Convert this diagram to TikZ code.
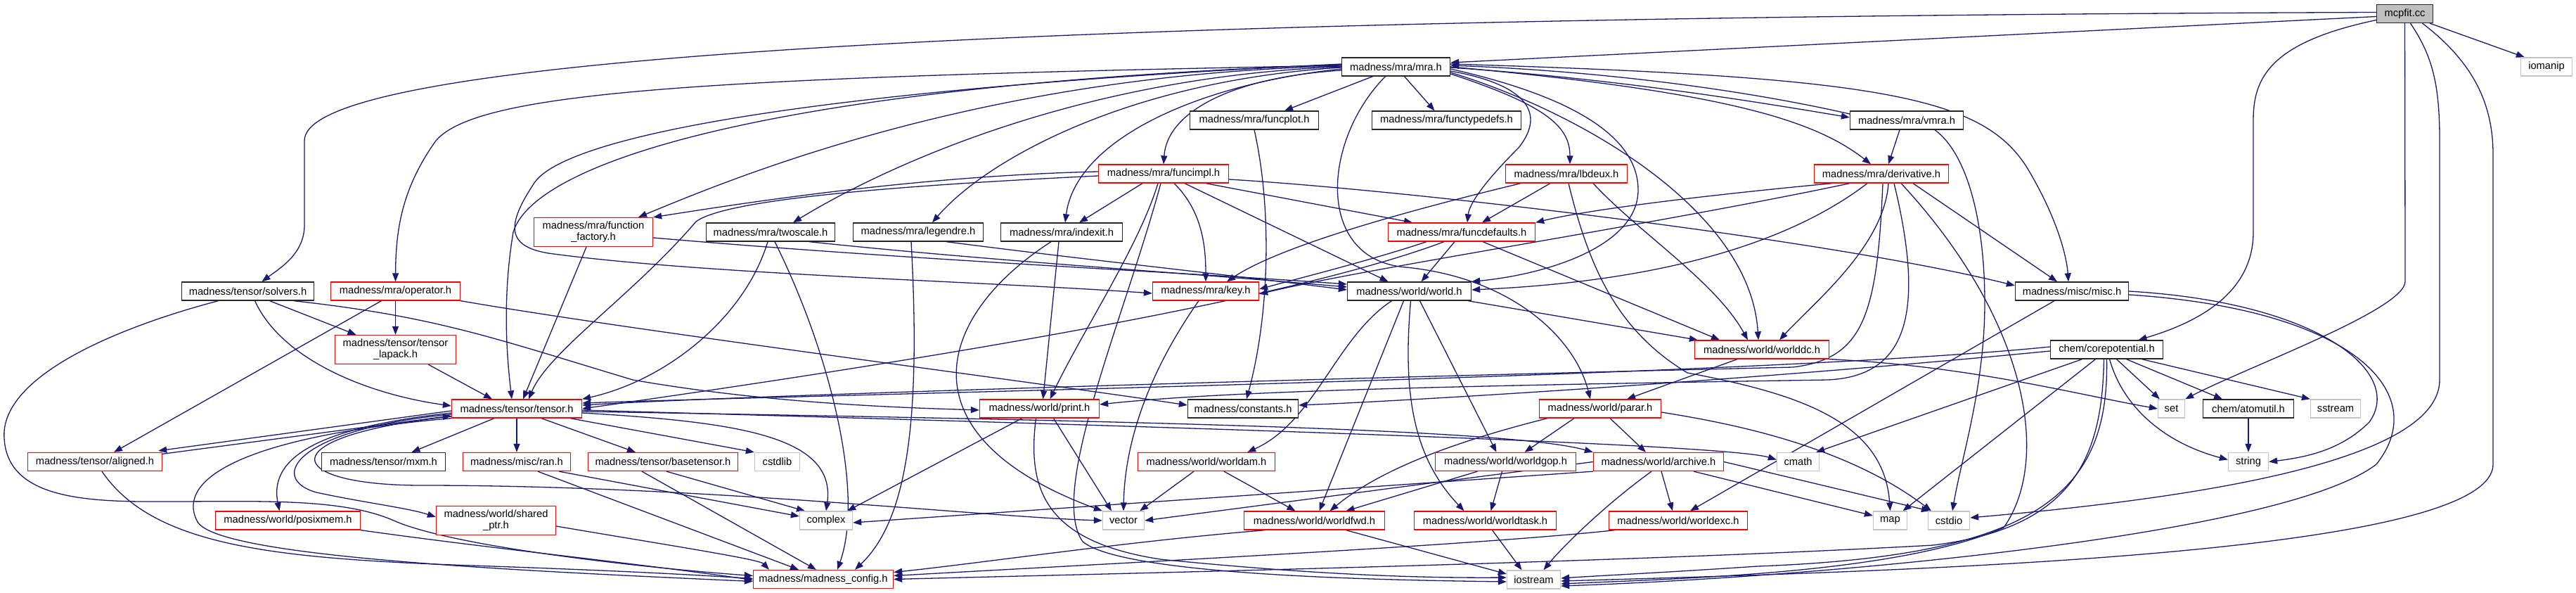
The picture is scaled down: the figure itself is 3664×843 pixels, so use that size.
\documentclass[tikz,border=0pt]{standalone}
\usepackage{fontspec}
\setmainfont{Liberation Sans}
\usetikzlibrary{arrows.meta}
\definecolor{edgec}{HTML}{191970}
\definecolor{redc}{HTML}{FF0000}
\definecolor{extc}{HTML}{C4C4C4}
\definecolor{rootc}{HTML}{BFBFBF}
\pgfdeclarelayer{bg}
\pgfsetlayers{bg,main}
\begin{document}
\begin{tikzpicture}[x=1pt,y=-1pt,
  nbox/.style={rectangle, draw, fill=white, minimum height=26pt, inner sep=0pt, line width=1.3pt, align=center, font=\fontsize{14.7pt}{16pt}\selectfont},
  blk/.style={nbox, draw=black!85},
  rd/.style={nbox, draw=redc},
  ext/.style={nbox, draw=extc},
  rootn/.style={nbox, draw=black!85, fill=rootc},
  two/.style={minimum height=41pt},
  wd/.style={minimum width=#1pt},
  dep/.style={draw=edgec, line width=1.3pt, -{Triangle[length=12pt,width=9pt]}}
]
\useasboundingbox (0,0) rectangle (3664,843);
% rank 0
\node[rootn, wd=80] (mcp) at (3420.5,19.5) {mcpfit.cc};
% rank 1
\node[blk, wd=154] (mra) at (1985.5,95) {madness/mra/mra.h};
\node[ext, wd=73] (iom) at (3622,95) {iomanip};
% rank 2
\node[blk, wd=183] (fplot) at (1784,171) {madness/mra/funcplot.h};
\node[blk, wd=212] (ftd) at (2057.5,171) {madness/mra/functypedefs.h};
\node[blk, wd=161] (vmra) at (2712,171) {madness/mra/vmra.h};
% rank 3
\node[rd, wd=185] (fimpl) at (1655,247) {madness/mra/funcimpl.h};
\node[rd, wd=173] (lbd) at (2228,247) {madness/mra/lbdeux.h};
\node[rd, wd=191] (deriv) at (2676,247) {madness/mra/derivative.h};
% rank 4
\node[rd, two, wd=169] (ffac) at (844,330) {madness/mra/function\\\_factory.h};
\node[blk, wd=183] (twos) at (1096,330) {madness/mra/twoscale.h};
\node[blk, wd=185] (leg) at (1306,330) {madness/mra/legendre.h};
\node[blk, wd=173] (idx) at (1510,330) {madness/mra/indexit.h};
\node[rd, wd=209] (fdef) at (2079,330) {madness/mra/funcdefaults.h};
% rank 5
\node[blk, wd=188] (solv) at (352.5,414) {madness/tensor/solvers.h};
\node[rd, wd=184] (oper) at (562.5,414) {madness/mra/operator.h};
\node[rd, wd=151] (key) at (1715,414) {madness/mra/key.h};
\node[blk, wd=176] (world) at (2004.5,414) {madness/world/world.h};
\node[blk, wd=161] (misc) at (2947,414) {madness/misc/misc.h};
% rank 6
\node[rd, two, wd=172] (lap) at (562.5,497) {madness/tensor/tensor\\\_lapack.h};
\node[rd, wd=191] (wdc) at (2506,497) {madness/world/worlddc.h};
\node[blk, wd=160] (corep) at (2996.5,497) {chem/corepotential.h};
% rank 7
\node[rd, wd=185] (tensor) at (735,581) {madness/tensor/tensor.h};
\node[rd, wd=170] (print) at (1478.5,581) {madness/world/print.h};
\node[blk, wd=157] (cons) at (1768,581) {madness/constants.h};
\node[rd, wd=173] (parar) at (2276,581) {madness/world/parar.h};
\node[ext, wd=38] (set) at (3088.5,581) {set};
\node[blk, wd=129] (atom) at (3198,581) {chem/atomutil.h};
\node[ext, wd=71] (sstr) at (3322,581) {sstream};
% rank 8
\node[rd, wd=191] (aligned) at (135,656.5) {madness/tensor/aligned.h};
\node[blk, wd=176] (mxm) at (545.5,656.5) {madness/tensor/mxm.h};
\node[rd, wd=153] (ran) at (735,656.5) {madness/misc/ran.h};
\node[rd, wd=213] (base) at (943,656.5) {madness/tensor/basetensor.h};
\node[ext, wd=64] (cstdlib) at (1105.5,656.5) {cstdlib};
\node[rd, wd=195] (wam) at (1716,656.5) {madness/world/worldam.h};
\node[rd, wd=200] (wgop) at (2141.5,656.5) {madness/world/worldgop.h};
\node[rd, wd=185] (arch) at (2359,656.5) {madness/world/archive.h};
\node[ext, wd=60] (cmath) at (2557.5,656.5) {cmath};
\node[ext, wd=57] (string) at (3198,656.5) {string};
% rank 9
\node[rd, wd=206] (posix) at (409.5,740) {madness/world/posixmem.h};
\node[rd, two, wd=170] (shptr) at (705.5,740) {madness/world/shared\\\_ptr.h};
\node[ext, wd=75] (complex) at (1175,740) {complex};
\node[ext, wd=59] (vector) at (1598,740) {vector};
\node[rd, wd=200] (wfwd) at (1869.5,740) {madness/world/worldfwd.h};
\node[rd, wd=202] (wtask) at (2112.5,740) {madness/world/worldtask.h};
\node[rd, wd=197] (wexc) at (2387,740) {madness/world/worldexc.h};
\node[ext, wd=48] (map) at (2688.5,740) {map};
\node[ext, wd=59] (cstdio) at (2772,740) {cstdio};
% rank 10
\node[rd, wd=199] (config) at (1171,823.5) {madness/madness\_config.h};
\node[ext, wd=76] (iostream) at (2181.5,824) {iostream};

\begin{pgfonlayer}{bg}
% mcpfit.cc
\draw[dep] ([yshift=-4pt]mcp.west) -- ([yshift=6pt]mra.east);
\draw[dep] ([yshift=2pt]mcp.west) .. controls (1000,26) and (433,110) .. (433,200) -- (433,320) .. controls (433,360) and (400,380) .. ([xshift=20pt]solv.north);
\draw[dep] ([xshift=-5pt]mcp.south east) -- ([xshift=6pt]iom.north west);
\draw[dep] ([yshift=-9pt]mcp.west) .. controls (3230,60) and (3205,110) .. (3205,170) -- (3205,330) .. controls (3205,420) and (3120,460) .. ([xshift=45pt]corep.north);
\draw[dep] (mcp.south) -- (3421,400) .. controls (3421,440) and (3200,520) .. (set.north east);
\draw[dep] ([xshift=8pt]mcp.south) .. controls (3460,80) and (3470,120) .. (3470,200) -- (3470,540) .. controls (3470,660) and (3100,710) .. ([yshift=4pt]cstdio.east);
\draw[dep] ([xshift=25pt]mcp.south) .. controls (3520,90) and (3546,150) .. (3546,220) -- (3546,660) .. controls (3546,790) and (2700,812) .. ([yshift=-2pt]iostream.east);
% mra.h
\draw[dep] ([xshift=-33pt]mra.south) -- ([xshift=43pt]fplot.north);
\draw[dep] ([xshift=12pt]mra.south) -- ([xshift=-17pt]ftd.north);
\draw[dep] ([yshift=-10pt]mra.east) .. controls (2200,150) and (2233,180) .. ([xshift=5pt]lbd.north);
\draw[dep] ([yshift=-6pt]mra.east) .. controls (2170,120) and (2200,160) .. (2160,210) .. controls (2110,260) and (2090,290) .. ([xshift=8pt]fdef.north);
\draw[dep] ([yshift=-3pt]mra.east) .. controls (2250,140) and (2330,200) .. (2330,270) .. controls (2330,350) and (2200,390) .. (world.north east);
\draw[dep] ([xshift=-15pt]mra.south) .. controls (1880,200) and (1870,370) .. (2000,380) .. controls (2150,395) and (2240,480) .. ([xshift=-14pt]parar.north);
\draw[dep] ([yshift=-1pt]mra.east) .. controls (2300,112) and (2500,145) .. ([yshift=4pt]vmra.west);
\draw[dep] ([yshift=9pt]vmra.west) .. controls (2500,132) and (2300,102) .. ([yshift=2pt]mra.east);
\draw[dep] (mra.east) .. controls (2450,130) and (2580,170) .. ([xshift=-15pt]deriv.north);
\draw[dep] ([yshift=4pt]mra.east) .. controls (2700,110) and (2830,140) .. (2890,250) .. controls (2930,320) and (2940,370) .. ([xshift=-5pt]misc.north);
\draw[dep] ([yshift=-8pt]mra.east) .. controls (2250,160) and (2490,300) .. ([xshift=-5pt]wdc.north);
\draw[dep] ([yshift=-5pt]mra.west) .. controls (1750,110) and (1660,160) .. (fimpl.north);
\draw[dep] ([yshift=-3pt]mra.west) .. controls (1700,120) and (1530,200) .. ([xshift=5pt]idx.north);
\draw[dep] ([yshift=-1pt]mra.west) .. controls (1600,115) and (1400,230) .. ([xshift=20pt]leg.north);
\draw[dep] (mra.west) .. controls (1500,110) and (1220,260) .. ([xshift=32pt]twos.north);
\draw[dep] ([yshift=1pt]mra.west) .. controls (1400,105) and (1050,250) .. ([xshift=64pt]ffac.north);
\draw[dep] ([yshift=2pt]mra.west) .. controls (1000,110) and (680,130) .. (620,200) .. controls (570,270) and (563,330) .. (oper.north);
\draw[dep] ([yshift=3pt]mra.west) .. controls (1100,120) and (760,230) .. (730,330) .. controls (715,420) and (720,500) .. ([xshift=-7pt]tensor.north);
\draw[dep] ([yshift=4pt]mra.west) .. controls (1100,130) and (800,200) .. (760,260) .. controls (720,320) and (720,350) .. (780,360) .. controls (1000,390) and (1400,400) .. ([yshift=-3pt]key.west);
% vmra.h
\draw[dep] ([xshift=-10pt]vmra.south) -- ([xshift=10pt]deriv.north);
\draw[dep] ([xshift=40pt]vmra.south) .. controls (2800,220) and (2823,320) .. (2823,430) .. controls (2823,550) and (2790,650) .. ([xshift=5pt]cstdio.north);
% funcplot.h
\draw[dep] (fplot.south) .. controls (1810,300) and (1805,450) .. ([xshift=5pt]cons.north);
% funcimpl.h
\draw[dep] ([yshift=3pt]fimpl.west) .. controls (1300,250) and (1050,290) .. (ffac.north east);
\draw[dep] ([yshift=-3pt]fimpl.west) .. controls (1250,265) and (1030,285) .. (990,315) .. controls (900,420) and (780,500) .. ([xshift=17pt]tensor.north);
\draw[dep] ([xshift=-30pt]fimpl.south) -- ([xshift=25pt]idx.north);
\draw[dep] ([xshift=-8pt]fimpl.south) .. controls (1620,350) and (1540,470) .. ([xshift=15pt]print.north);
\draw[dep] ([xshift=-4pt]fimpl.south) .. controls (1600,450) and (1490,700) .. (1540,770) .. controls (1600,820) and (2000,825) .. ([yshift=-3pt]iostream.west);
\draw[dep] ([xshift=15pt]fimpl.south) .. controls (1710,300) and (1715,350) .. (key.north);
\draw[dep] ([xshift=30pt]fimpl.south) -- ([xshift=-30pt]world.north);
\draw[dep] ([xshift=60pt]fimpl.south) -- ([xshift=-70pt]fdef.north);
\draw[dep] ([yshift=-8pt]fimpl.east) .. controls (2000,270) and (2600,340) .. ([yshift=8pt]misc.west);
% lbdeux.h
\draw[dep] ([xshift=-23pt]lbd.south) -- ([xshift=29pt]fdef.north);
\draw[dep] ([xshift=-65pt]lbd.south) .. controls (2000,300) and (1820,350) .. ([xshift=30pt]key.north);
\draw[dep] ([xshift=38pt]lbd.south) .. controls (2330,330) and (2440,400) .. ([xshift=-20pt]wdc.north);
\draw[dep] ([xshift=3pt]lbd.south) .. controls (2260,380) and (2300,470) .. (2400,530) .. controls (2560,560) and (2680,600) .. (map.north);
% funcdefaults.h
\draw[dep] ([xshift=-50pt]fdef.south) .. controls (1950,370) and (1850,395) .. ([yshift=3pt]key.east);
\draw[dep] ([xshift=-10pt]fdef.south) -- ([xshift=17pt]world.north);
\draw[dep] ([xshift=30pt]fdef.south) -- ([xshift=-60pt]wdc.north);
\draw[dep] ([xshift=-25pt]fdef.south) .. controls (1850,420) and (1400,500) .. (tensor.east);
% derivative.h
\draw[dep] ([xshift=-70pt]deriv.south) .. controls (2400,280) and (2250,300) .. (fdef.north east);
\draw[dep] ([xshift=-45pt]deriv.south) .. controls (2350,320) and (1950,380) .. ([yshift=-4pt]key.east);
\draw[dep] ([xshift=-20pt]deriv.south) .. controls (2500,380) and (2250,405) .. ([yshift=2pt]world.east);
\draw[dep] ([xshift=10pt]deriv.south) .. controls (2680,350) and (2580,430) .. ([xshift=25pt]wdc.north);
\draw[dep] ([xshift=2pt]deriv.south) .. controls (2670,450) and (2650,510) .. (2550,522) .. controls (2000,535) and (1100,560) .. ([yshift=5pt]tensor.east);
\draw[dep] ([xshift=18pt]deriv.south) .. controls (2740,450) and (2710,535) .. (2600,540) .. controls (2100,548) and (1750,555) .. ([yshift=6pt]print.east);
\draw[dep] ([xshift=28pt]deriv.south) .. controls (2880,450) and (2920,650) .. (2850,750) .. controls (2700,815) and (2400,822) .. ([yshift=-6pt]iostream.east);
\draw[dep] ([xshift=45pt]deriv.south) -- ([xshift=-21pt]misc.north);
% function_factory.h
\draw[dep] ([xshift=-10pt]ffac.south) -- ([xshift=9pt]tensor.north);
\draw[dep] ([yshift=-8pt]ffac.east) .. controls (1300,370) and (1650,385) .. ([yshift=10pt]world.west);
% twoscale.h
\draw[dep] ([xshift=-4pt]twos.south) .. controls (1060,450) and (950,540) .. (tensor.north east);
\draw[dep] ([xshift=6pt]twos.south) .. controls (1180,500) and (1230,700) .. ([xshift=20pt]config.north);
\draw[dep] ([xshift=55pt]twos.south) .. controls (1400,370) and (1650,385) .. ([yshift=6pt]world.west);
% legendre.h
\draw[dep] ([xshift=-10pt]leg.south) .. controls (1310,600) and (1290,740) .. ([xshift=45pt]config.north);
\draw[dep] ([xshift=40pt]leg.south) .. controls (1550,370) and (1700,385) .. ([yshift=2pt]world.west);
% indexit.h
\draw[dep] ([xshift=-4pt]idx.south) -- ([xshift=5pt]print.north);
\draw[dep] ([xshift=-15pt]idx.south) .. controls (1330,450) and (1280,620) .. (vector.north west);
% operator.h
\draw[dep] (oper.south) -- (lap.north);
\draw[dep] ([xshift=-20pt]oper.south) -- ([xshift=27pt]aligned.north);
\draw[dep] (oper.south east) .. controls (900,470) and (1450,540) .. ([yshift=5pt]cons.west);
% solvers.h
\draw[dep] ([xshift=31pt]solv.south) -- ([xshift=-56pt]lap.north);
\draw[dep] ([xshift=10pt]solv.south) .. controls (400,510) and (520,560) .. ([yshift=4pt]tensor.west);
\draw[dep] ([xshift=65pt]solv.south) .. controls (620,450) and (700,480) .. (900,540) .. controls (1100,575) and (1300,580) .. ([yshift=-2pt]print.west);
\draw[dep] ([xshift=-42pt]solv.south) .. controls (150,470) and (0,540) .. (6,623) .. controls (10,700) and (100,712) .. (200,713) .. controls (350,714) and (480,705) .. (560,740) .. controls (650,780) and (950,810) .. ([yshift=5pt]config.west);
% tensor_lapack.h
\draw[dep] ([xshift=-40pt]lap.south east) -- ([xshift=-35pt]tensor.north);
% tensor.h
\draw[dep] ([yshift=-3pt]tensor.west) -- ([yshift=2pt,xshift=-6pt]aligned.north east);
\draw[dep] ([xshift=-4pt,yshift=-3pt]aligned.north east) -- ([yshift=-10pt]tensor.west);
\draw[dep] ([xshift=-32pt]tensor.south) -- ([xshift=40pt]mxm.north);
\draw[dep] (tensor.south) -- (ran.north);
\draw[dep] ([xshift=35pt]tensor.south) -- ([xshift=-39pt]base.north);
\draw[dep] ([xshift=76pt]tensor.south) -- (cstdlib.north west);
\draw[dep] ([yshift=-6pt]tensor.east) .. controls (1050,600) and (1190,620) .. (complex.north);
\draw[dep] ([yshift=-6pt]tensor.west) .. controls (480,605) and (380,640) .. ([xshift=-12pt]posix.north);
\draw[dep] ([yshift=-8pt]tensor.west) .. controls (420,610) and (380,680) .. (450,700) .. controls (520,715) and (580,722) .. ([yshift=5pt]shptr.west);
\draw[dep] ([yshift=-11pt]tensor.west) .. controls (380,620) and (400,690) .. (600,690) .. controls (1000,690) and (1400,735) .. (vector.west);
\draw[dep] (tensor.south west) .. controls (350,620) and (250,680) .. (280,740) .. controls (300,790) and (700,810) .. ([yshift=-3pt]config.west);
\draw[dep] ([yshift=-2pt]tensor.east) .. controls (1600,605) and (2450,630) .. ([yshift=3pt]cmath.west);
\draw[dep] ([yshift=-4pt]tensor.east) .. controls (1600,598) and (2150,610) .. (arch.north west);
% leaves into config / complex
\draw[dep] ([xshift=30pt]ran.south) -- ([xshift=-35pt]config.north);
\draw[dep] ([xshift=60pt]ran.south) -- ([yshift=6pt]complex.west);
\draw[dep] ([xshift=-30pt]base.south) -- ([xshift=-10pt]config.north);
\draw[dep] ([xshift=5pt]base.south) -- ([xshift=-30pt]complex.north);
\draw[dep] ([xshift=10pt]aligned.south) .. controls (220,780) and (400,795) .. (700,805) .. controls (900,812) and (1000,818) .. ([yshift=1pt]config.west);
\draw[dep] (posix.south east) .. controls (700,780) and (900,800) .. ([yshift=-1pt]config.west);
\draw[dep] ([yshift=-8pt]shptr.east) .. controls (950,775) and (1080,795) .. ([xshift=-77pt]config.north);
% print.h
\draw[dep] ([xshift=-25pt]print.south) -- ([xshift=-8pt]complex.north east);
\draw[dep] ([xshift=20pt]print.south) -- ([xshift=-17pt]vector.north);
\draw[dep] ([xshift=-5pt]print.south) .. controls (1460,700) and (1490,770) .. (1650,795) .. controls (1850,815) and (2000,822) .. ([yshift=3pt]iostream.west);
% key.h
\draw[dep] ([xshift=-10pt]key.south) .. controls (1640,520) and (1600,620) .. (vector.north);
% world.h
\draw[dep] ([xshift=-25pt]world.south) .. controls (1900,480) and (1870,600) .. ([xshift=-40pt]wam.north east);
\draw[dep] ([xshift=-8pt]world.south) -- ([xshift=7pt]wfwd.north);
\draw[dep] ([xshift=2pt]world.south) .. controls (1995,560) and (2010,650) .. ([xshift=-30pt]wtask.north);
\draw[dep] ([xshift=15pt]world.south) -- ([xshift=-13pt]wgop.north);
\draw[dep] ([xshift=-5pt]world.south east) -- ([xshift=5pt]wdc.north west);
% worldam.h
\draw[dep] ([xshift=-18pt]wam.south) -- ([xshift=-7pt]vector.north east);
\draw[dep] ([xshift=25pt]wam.south) -- ([xshift=-27pt]wfwd.north);
% worldgop.h
\draw[dep] ([xshift=-40pt]wgop.south) -- ([xshift=45pt]wfwd.north);
\draw[dep] ([xshift=-5pt]wgop.south) -- ([xshift=8pt]wtask.north);
% parar.h
\draw[dep] ([xshift=-75pt]parar.south) .. controls (2060,630) and (1960,670) .. ([xshift=22pt]wfwd.north);
\draw[dep] ([xshift=-37pt]parar.south) -- ([xshift=27pt]wgop.north);
\draw[dep] ([xshift=14pt]parar.south) -- ([xshift=-18pt]arch.north);
\draw[dep] ([yshift=-5pt]parar.east) .. controls (2450,600) and (2620,630) .. ([xshift=-25pt]cstdio.north);
% archive.h
\draw[dep] ([xshift=-10pt]arch.south) .. controls (2280,720) and (2220,780) .. ([xshift=14pt]iostream.north);
\draw[dep] ([xshift=4pt]arch.south) -- ([xshift=-8pt]wexc.north);
\draw[dep] ([xshift=50pt]arch.south) -- ([yshift=7pt]map.west);
\draw[dep] (arch.east) -- ([xshift=3pt]cstdio.north west);
\draw[dep] (arch.south west) -- ([yshift=-3pt]complex.east);
\draw[dep] (arch.west) -- (vector.east);
% worlddc.h
\draw[dep] (wdc.south east) .. controls (2800,520) and (2950,560) .. (set.west);
\draw[dep] ([xshift=-35pt]wdc.south) -- ([xshift=38pt]parar.north);
% worldtask / worldfwd / worldexc
\draw[dep] ([xshift=10pt]wtask.south) -- ([xshift=-17pt]iostream.north);
\draw[dep] ([xshift=-70pt]wfwd.south) .. controls (1600,770) and (1400,800) .. ([yshift=10pt]config.east);
\draw[dep] ([xshift=45pt]wfwd.south) -- ([yshift=8pt]iostream.west);
\draw[dep] ([xshift=-90pt]wexc.south) .. controls (2100,775) and (1600,800) .. ([yshift=5pt]config.east);
% misc.h
\draw[dep] ([xshift=-25pt]misc.south) -- ([xshift=17pt]wexc.north);
\draw[dep] (misc.east) .. controls (3300,430) and (3420,530) .. (3370,600) .. controls (3330,640) and (3280,650) .. (string.east);
\draw[dep] ([yshift=-5pt]misc.east) .. controls (3350,440) and (3460,560) .. (3380,660) .. controls (3250,760) and (2600,820) .. ([yshift=-9pt]iostream.east);
% chem/corepotential.h
\draw[dep] ([yshift=4pt]corep.west) .. controls (2500,535) and (1200,560) .. ([yshift=8pt]tensor.east);
\draw[dep] ([yshift=-2pt]corep.west) .. controls (2500,540) and (2000,570) .. ([yshift=5pt]cons.east);
\draw[dep] ([xshift=-35pt]corep.south) -- ([xshift=-5pt]cmath.north east);
\draw[dep] ([xshift=-16pt]corep.south) -- ([xshift=18pt]map.north);
\draw[dep] ([xshift=-4pt]corep.south) .. controls (2990,650) and (2950,750) .. (2750,775) .. controls (2300,800) and (1600,815) .. (config.east);
\draw[dep] (corep.south) .. controls (3000,700) and (2900,790) .. (2500,805) .. controls (2350,815) and (2280,818) .. ([yshift=2pt]iostream.east);
\draw[dep] ([xshift=4pt]corep.south) .. controls (3020,580) and (3080,630) .. ([yshift=3pt]string.west);
\draw[dep] ([xshift=14pt]corep.south) -- ([xshift=3pt]set.north west);
\draw[dep] ([xshift=28pt]corep.south) -- ([xshift=-37pt]atom.north);
\draw[dep] ([xshift=50pt]corep.south) -- (sstr.north west);
% chem/atomutil.h
\draw[dep] (atom.south) -- (string.north);
\end{pgfonlayer}
\end{tikzpicture}
\end{document}
